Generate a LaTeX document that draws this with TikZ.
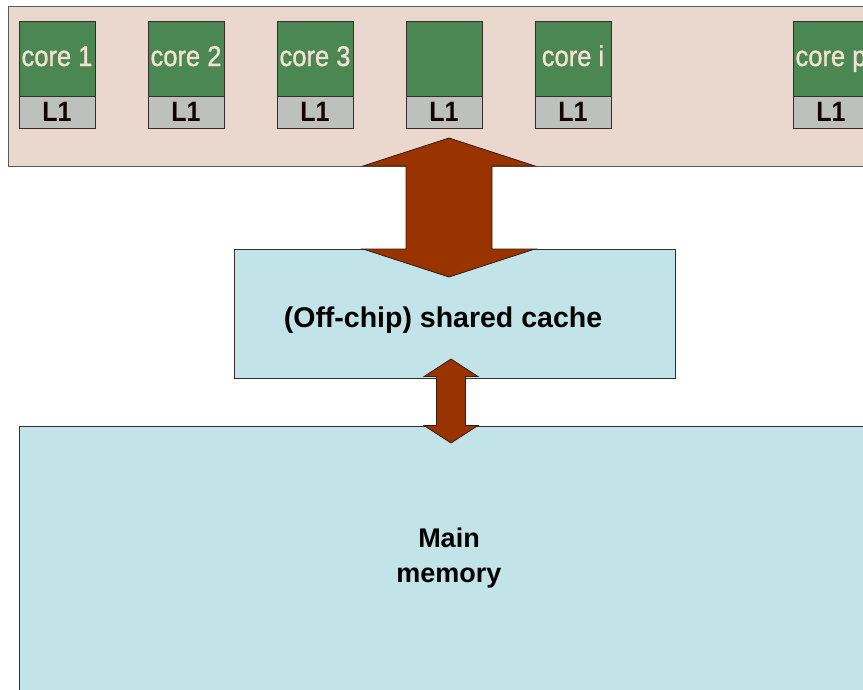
\documentclass[tikz,border=0pt]{standalone}
\usepackage{fontspec}
\setmainfont{Liberation Sans}
\newfontfamily\corefont[BoldFont={Liberation Sans}, BoldFeatures={FakeBold=1.2}]{Liberation Sans}
\definecolor{chipbg}{HTML}{EAD7CE}
\definecolor{chipline}{HTML}{5A5A5A}
\definecolor{coregreen}{HTML}{4B8753}
\definecolor{coretext}{HTML}{F3E1D3}
\definecolor{lonegray}{HTML}{BCC1BD}
\definecolor{boxline}{HTML}{3A2A28}
\definecolor{memblue}{HTML}{C2E3E8}
\definecolor{busfill}{HTML}{993300}
\definecolor{busline}{HTML}{3A1A10}

% double-headed block arrow: centre x, top tip y, bottom tip y,
% half shaft width, half head width, head length
\newcommand\busarrow[6]{%
  \filldraw[fill=busfill, draw=busline, line width=0.8pt, line join=miter]
    (#1,#2) -- (#1+#5,#2+#6) -- (#1+#4,#2+#6) -- (#1+#4,#3-#6)
    -- (#1+#5,#3-#6) -- (#1,#3) -- (#1-#5,#3-#6) -- (#1-#4,#3-#6)
    -- (#1-#4,#2+#6) -- (#1-#5,#2+#6) -- cycle;}

\begin{document}
\begin{tikzpicture}[x=1pt, y=-1pt,
  block/.style={draw=chipline, line width=1pt, anchor=north west, inner sep=0pt},
  corebox/.style={draw=boxline, line width=1pt, fill=coregreen, anchor=north west,
    minimum width=76pt, minimum height=75pt, inner sep=0pt},
  cachebox/.style={draw=boxline, line width=1pt, fill=lonegray, anchor=north west,
    minimum width=76pt, minimum height=32pt, inner sep=0pt},
  corelbl/.style={text=coretext, font=\corefont\bfseries\fontsize{25.5}{30}\selectfont, inner sep=0pt,
    anchor=base, yscale=1.12},
  lonelbl/.style={text=black!90!red, font=\fontsize{25}{30}\selectfont\bfseries, inner sep=0pt,
    anchor=base, yscale=1.12},
  biglbl/.style={text=black, font=\fontsize{28.5}{35}\selectfont\bfseries, inner sep=0pt, align=center}]
\useasboundingbox (0,0) rectangle (863,689);
\fill[white] (0,0) rectangle (863,689);
\clip (0,0) rectangle (863,689);

% processor chip
\node[block, fill=chipbg, minimum width=880pt, minimum height=160pt] (chip) at (8,6) {};

% cores with their private L1 caches
\foreach \n/\x/\t in {c1/19/core 1, c2/148/core 2, c3/277/core 3, c4/406/, ci/535/core i, cp/793/core p}{
  \node[corebox] (\n) at (\x,21) {};
  \node[corelbl] (\n lbl) at (\x+38,66) {\t};
  \node[cachebox] (\n l1) at (\x,96) {};
  \node[lonelbl] (\n l1lbl) at (\x+38,121) {L1};
}

% shared cache and main memory
\node[block, draw=boxline, fill=memblue, minimum width=441pt, minimum height=129pt] (shared) at (234,249) {};
\node[biglbl, anchor=base] (sharedlbl) at (443,327) {(Off-chip) shared cache};

\node[block, draw=boxline, fill=memblue, minimum width=880pt, minimum height=300pt] (mem) at (19,426) {};
\node[biglbl, font=\fontsize{27}{35}\selectfont\bfseries] (memlbl) at (449,558) {Main\\memory};

% data paths
\busarrow{449}{138}{277}{43}{86}{28}
\busarrow{451}{359}{443}{14.5}{27}{17.5}
\end{tikzpicture}
\end{document}
